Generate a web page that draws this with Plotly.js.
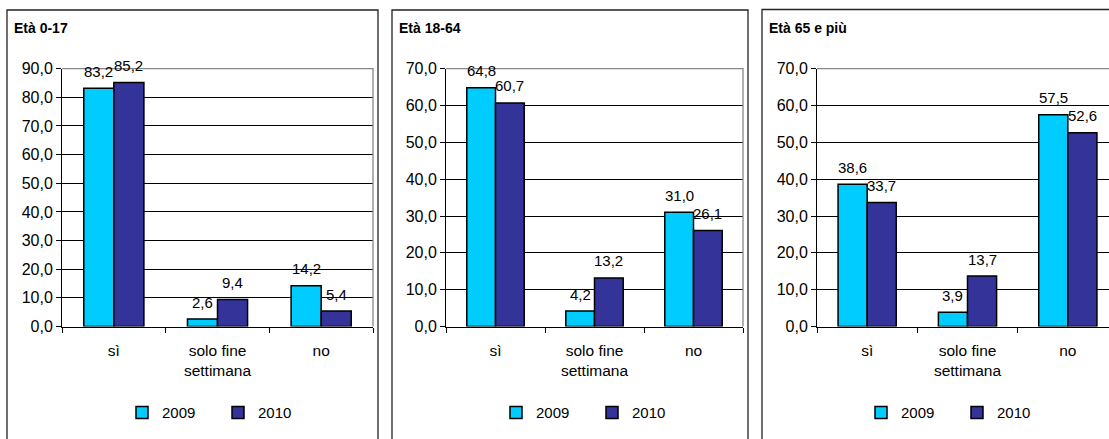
<!DOCTYPE html>
<html><head><meta charset="utf-8">
<script src="https://cdn.plot.ly/plotly-3.0.1.min.js"></script>
<style>html,body{margin:0;padding:0;overflow:hidden;background:#fff}#chart{width:1130px;height:450px}</style>
</head><body><div id="chart"></div>
<script>
// ---- data ----
const categories = ['sì', 'solo fine settimana', 'no'];
const tickLabels = ['sì', 'solo fine<br>settimana', 'no'];
const years = ['2009', '2010'];
const panelTitles = ['Età 0-17', 'Età 18-64', 'Età 65 e più'];
const age0_17_2009 = [83.2, 2.6, 14.2];
const age0_17_2010 = [85.2, 9.4, 5.4];
const age18_64_2009 = [64.8, 4.2, 31.0];
const age18_64_2010 = [60.7, 13.2, 26.1];
const age65_2009 = [38.6, 3.9, 57.5];
const age65_2010 = [33.7, 13.7, 52.6];
const yMax = [90, 70, 70];

// ---- layout helpers ----
const W = 1130, H = 450;
const px = v => v / W;
const py = v => 1 - v / H;
const colors = ['#00CCFF', '#333399'];
const bargap = 0.42;
const series = [[age0_17_2009, age0_17_2010], [age18_64_2009, age18_64_2010], [age65_2009, age65_2010]];
const plotX = [[62, 373], [446, 743], [817, 1118]];
const plotY = [68.7, 326.5];
const borderX = [[7, 378], [392, 748], [762, 1140]];
const legendX = [122, 496, 861];

const data = [];
const annotations = [];
const shapes = [];
const layout = {
  width: W, height: H,
  margin: {l: 0, r: 0, t: 0, b: 0},
  paper_bgcolor: '#fff', plot_bgcolor: '#fff',
  barmode: 'group', bargap: bargap, bargroupgap: 0,
  separators: ',.',
  font: {family: 'Liberation Sans, Arial, sans-serif', color: '#000', size: 15},
  showlegend: true,
  hovermode: false
};

series.forEach((pair, p) => {
  const ax = p === 0 ? '' : String(p + 1);
  const xa = 'x' + ax, ya = 'y' + ax;
  const legName = p === 0 ? 'legend' : 'legend' + (p + 1);
  pair.forEach((vals, s) => {
    data.push({
      type: 'bar', x: categories, y: vals, name: years[s],
      xaxis: xa, yaxis: ya, legend: legName,
      marker: {color: colors[s], line: {color: '#000', width: 1.5}},
      cliponaxis: false
    });
    vals.forEach((v, i) => {
      annotations.push({
        xref: xa, yref: ya,
        x: i + (s === 0 ? -1 : 1) * (1 - bargap) / 4, y: v,
        text: v.toFixed(1).replace('.', ','),
        showarrow: false, yanchor: 'middle', yshift: 17,
        font: {size: 15, color: '#000'}
      });
    });
  });
  layout['xaxis' + ax] = {
    domain: [px(plotX[p][0]), px(plotX[p][1])],
    anchor: ya, type: 'category',
    tickvals: categories, ticktext: tickLabels,
    tickson: 'boundaries', ticks: 'outside', ticklen: 5, tickcolor: '#000',
    ticklabelstandoff: 10,
    showline: true, linecolor: '#000', linewidth: 1,
    showgrid: false, zeroline: false,
    tickfont: {size: 15.5, color: '#000'},
    fixedrange: true
  };
  layout['yaxis' + ax] = {
    domain: [py(plotY[1]), py(plotY[0])],
    anchor: xa, range: [0, yMax[p]], dtick: 10, tick0: 0,
    tickformat: '.1f', ticks: 'outside', ticklen: 5, tickcolor: '#000',
    showline: true, linecolor: '#000', linewidth: 1,
    showgrid: true, gridcolor: '#000', gridwidth: 1,
    zeroline: false,
    tickfont: {size: 16, color: '#000'},
    fixedrange: true
  };
  layout[legName] = {
    orientation: 'h', x: px(legendX[p]), y: py(412.7),
    xanchor: 'left', yanchor: 'middle',
    font: {size: 15, color: '#000'},
    bgcolor: 'rgba(0,0,0,0)', entrywidth: 51, entrywidthmode: 'pixels',
    itemclick: false, itemdoubleclick: false
  };
  // panel border
  shapes.push({type: 'rect', xref: 'paper', yref: 'paper',
    x0: px(borderX[p][0]), x1: px(borderX[p][1]), y0: py(H + 10), y1: py(p === 2 ? 9.5 : 10),
    line: {color: '#222', width: 1.3}, layer: 'below'});
  // grey plot-area frame (top and right)
  shapes.push({type: 'path', xref: xa + ' domain', yref: ya + ' domain',
    path: 'M0,1 L1,1 L1,0', line: {color: '#888', width: 1.3}, layer: 'above'});
  annotations.push({
    xref: 'paper', yref: 'paper', x: px(borderX[p][0] + 5), y: py(28),
    xanchor: 'left', yanchor: 'middle', showarrow: false,
    text: '<b>' + panelTitles[p] + '</b>',
    font: {size: 14, color: '#000'}
  });
});
layout.annotations = annotations;
layout.shapes = shapes;

Plotly.newPlot('chart', data, layout, {displayModeBar: false, staticPlot: true});
</script>
</body></html>
